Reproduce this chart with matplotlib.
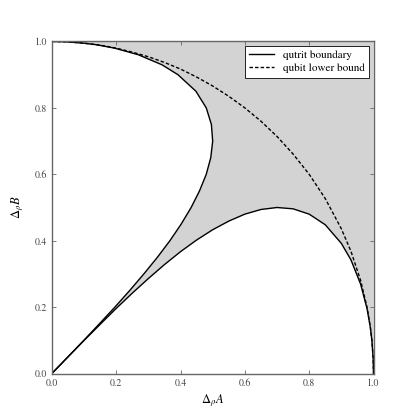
import matplotlib
matplotlib.use("Agg")
import matplotlib.pyplot as plt

plt.rcParams['font.family'] = ['STIXGeneral', 'DejaVu Serif']
plt.rcParams['mathtext.fontset'] = 'stix'

# lower qutrit boundary (A, B)
qutrit_a = [0.0, 0.05, 0.1, 0.15, 0.2, 0.25, 0.3, 0.35, 0.4, 0.45, 0.5, 0.55, 0.6,
            0.65, 0.7, 0.75, 0.8, 0.85, 0.9, 0.93, 0.96, 0.98, 0.99, 0.995, 0.999, 1.0]
qutrit_b = [0.0, 0.0499, 0.0995, 0.148, 0.196, 0.242, 0.286, 0.328, 0.367, 0.402,
            0.433, 0.459, 0.480, 0.494, 0.500, 0.496, 0.480, 0.448, 0.392, 0.342,
            0.269, 0.195, 0.140, 0.0994, 0.0447, 0.0]

# qubit lower bound (A, B)
qubit_a = qutrit_a
qubit_b = [1.0, 0.999, 0.995, 0.989, 0.980, 0.968, 0.954, 0.937, 0.917, 0.893,
           0.866, 0.835, 0.800, 0.760, 0.714, 0.661, 0.600, 0.527, 0.436, 0.368,
           0.280, 0.199, 0.141, 0.0999, 0.0447, 0.0]

fig = plt.figure(figsize=(4.15, 4.15), dpi=100)
ax = fig.add_axes([0.125, 0.1, 0.775, 0.8])

# shaded allowed region: above lower branch, right of mirrored branch
px = list(qutrit_a) + [1.0, 0.0] + list(qutrit_b[::-1])
py = list(qutrit_b) + [1.0, 1.0] + list(qutrit_a[::-1])
ax.fill(px, py, color='#d3d3d3', lw=0, zorder=0)

ax.plot(qutrit_a, qutrit_b, color='black', lw=1.0, label='qutrit boundary')
ax.plot(qutrit_b, qutrit_a, color='black', lw=1.0)
ax.plot(qubit_a, qubit_b, color='black', lw=1.0, ls='--', dashes=(2.5, 1.5),
        label='qubit lower bound')

ax.set_xlim(0, 1)
ax.set_ylim(0, 1)
ax.set_xticks([0.0, 0.2, 0.4, 0.6, 0.8, 1.0])
ax.set_yticks([0.0, 0.2, 0.4, 0.6, 0.8, 1.0])
ax.tick_params(labelsize=7, colors='#666666', labelcolor='#444444',
               direction='in', length=3, width=0.6, top=True, right=True)
for s in ax.spines.values():
    s.set_color('#666666')
    s.set_linewidth(1.0)

ax.set_xlabel(r'$\Delta_\rho A$', fontsize=9, labelpad=3)
ax.set_ylabel(r'$\Delta_\rho B$', fontsize=9, labelpad=6)

leg = ax.legend(loc='upper right', fontsize=8, fancybox=False, framealpha=1,
                handlelength=2.2, borderpad=0.4, labelspacing=0.3,
                borderaxespad=0.4)
leg.get_frame().set_edgecolor('black')
leg.get_frame().set_linewidth(0.6)

fig.savefig('out.png', dpi=100)
